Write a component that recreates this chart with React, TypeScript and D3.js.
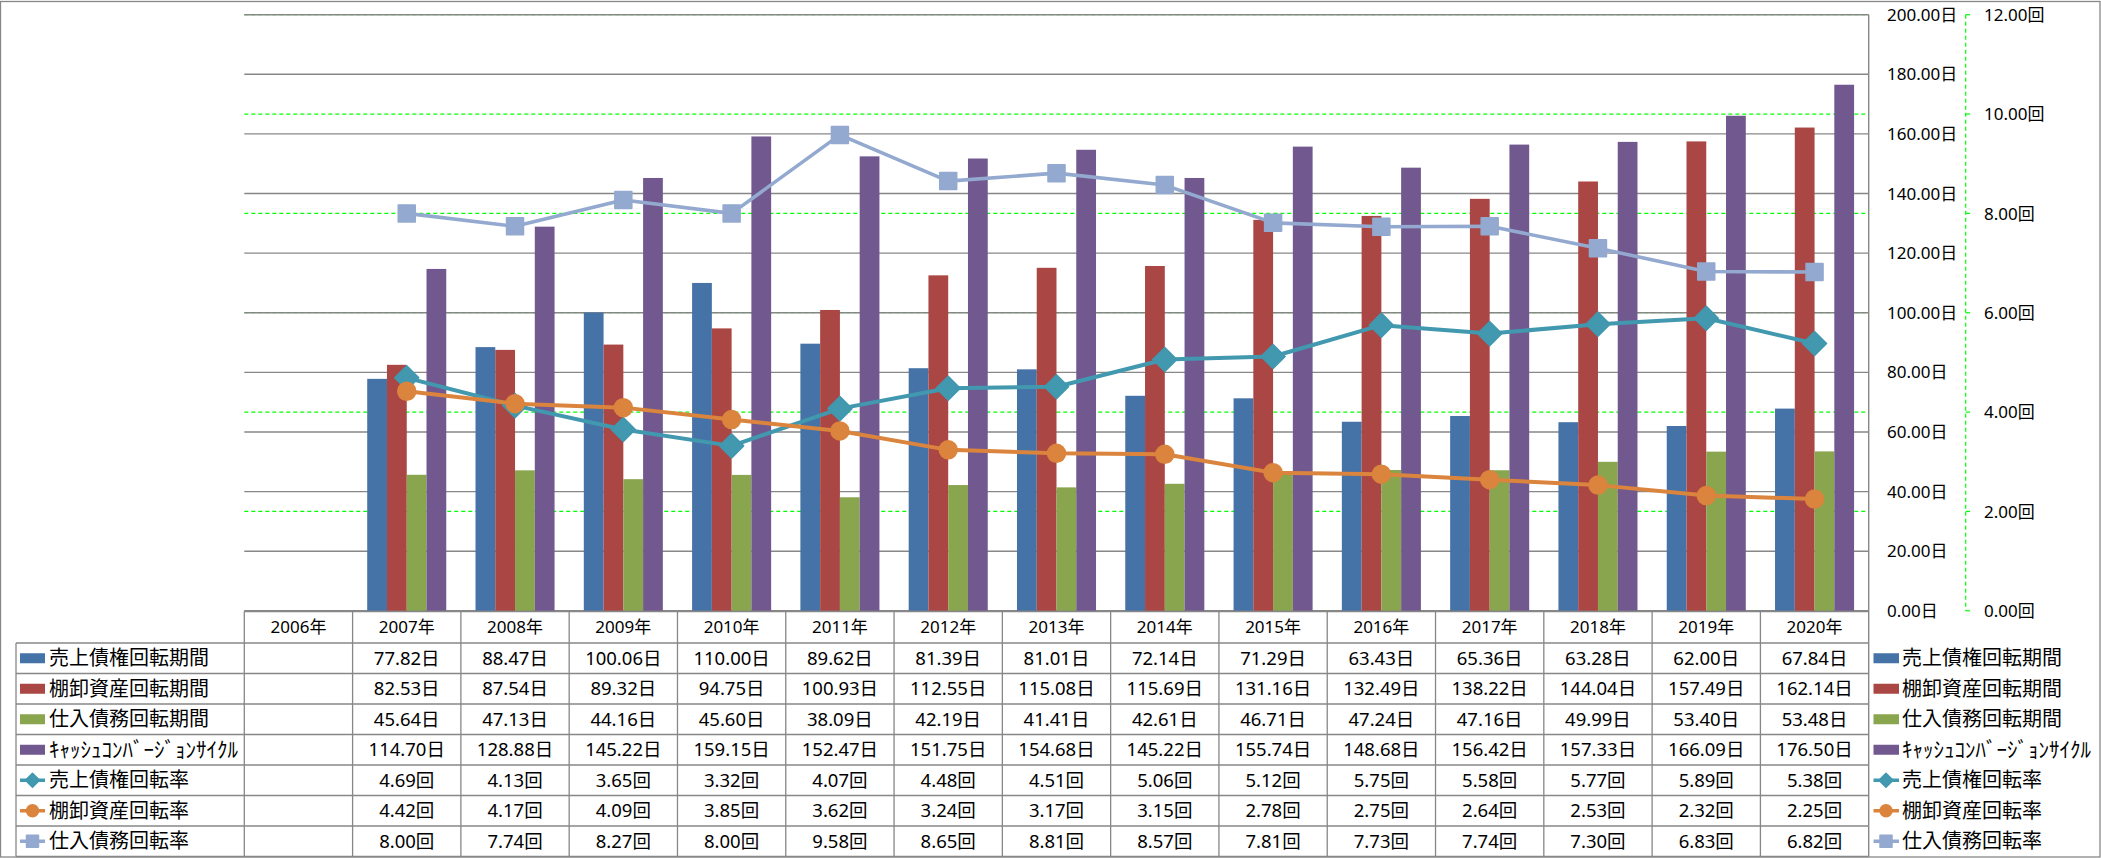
import React from 'react';
import * as d3 from 'd3';

const years = ['2006年', '2007年', '2008年', '2009年', '2010年', '2011年', '2012年', '2013年', '2014年', '2015年', '2016年', '2017年', '2018年', '2019年', '2020年'];
const arDays = [null, 77.82, 88.47, 100.06, 110.0, 89.62, 81.39, 81.01, 72.14, 71.29, 63.43, 65.36, 63.28, 62.0, 67.84];
const invDays = [null, 82.53, 87.54, 89.32, 94.75, 100.93, 112.55, 115.08, 115.69, 131.16, 132.49, 138.22, 144.04, 157.49, 162.14];
const apDays = [null, 45.64, 47.13, 44.16, 45.6, 38.09, 42.19, 41.41, 42.61, 46.71, 47.24, 47.16, 49.99, 53.4, 53.48];
const cccDays = [null, 114.7, 128.88, 145.22, 159.15, 152.47, 151.75, 154.68, 145.22, 155.74, 148.68, 156.42, 157.33, 166.09, 176.5];
const arTurn = [null, 4.69, 4.13, 3.65, 3.32, 4.07, 4.48, 4.51, 5.06, 5.12, 5.75, 5.58, 5.77, 5.89, 5.38];
const invTurn = [null, 4.42, 4.17, 4.09, 3.85, 3.62, 3.24, 3.17, 3.15, 2.78, 2.75, 2.64, 2.53, 2.32, 2.25];
const apTurn = [null, 8.0, 7.74, 8.27, 8.0, 9.58, 8.65, 8.81, 8.57, 7.81, 7.73, 7.74, 7.3, 6.83, 6.82];

const leftTicks = [0, 20, 40, 60, 80, 100, 120, 140, 160, 180, 200];
const rightTicks = [0, 2, 4, 6, 8, 10, 12];

type Series = { name: string; values: (number | null)[]; color: string; kind: 'bar' | 'line'; marker?: string };

const series: Series[] = [
  { name: '売上債権回転期間', values: arDays, color: '#4572A7', kind: 'bar' },
  { name: '棚卸資産回転期間', values: invDays, color: '#AA4643', kind: 'bar' },
  { name: '仕入債務回転期間', values: apDays, color: '#89A54E', kind: 'bar' },
  { name: 'ｷｬｯｼｭｺﾝﾊﾞｰｼﾞｮﾝｻｲｸﾙ', values: cccDays, color: '#71588F', kind: 'bar' },
  { name: '売上債権回転率', values: arTurn, color: '#4198AF', kind: 'line', marker: 'diamond' },
  { name: '棚卸資産回転率', values: invTurn, color: '#DB843D', kind: 'line', marker: 'circle' },
  { name: '仕入債務回転率', values: apTurn, color: '#93A9CF', kind: 'line', marker: 'square' },
];

const W = 2101;
const H = 858;
const plotL = 244.3;
const plotR = 1868.7;
const plotT = 14.7;
const plotB = 610.8;
const tableLabelL = 16;
const headerT = 611.5;
const headerB = 643;
const rowH = 30.5;
const tableB = headerB + rowH * 7;

const numFont = "'Noto Sans', 'Noto Sans CJK JP', sans-serif";
const cjkFont = "'Noto Sans CJK JP', 'Noto Sans', sans-serif";
const gray = '#878787';

function markerPath(kind: string | undefined, size: number) {
  if (kind === 'circle') return d3.symbol(d3.symbolCircle, Math.PI * (size / 2) * (size / 2))()!;
  return d3.symbol(d3.symbolSquare, size * size)()!;
}

function Marker({ kind, x, y, color, size }: { kind?: string; x: number; y: number; color: string; size: number }) {
  const rot = kind === 'diamond' ? 45 : 0;
  return (
    <path
      d={markerPath(kind, size)}
      transform={`translate(${x},${y}) rotate(${rot})`}
      fill={color}
      stroke={color}
      strokeWidth={1.5}
      strokeLinejoin="round"
    />
  );
}

function isHalfWidth(name: string) {
  return /[\uFF61-\uFF9F]/.test(name);
}

export default function App() {
  const x = d3.scaleBand<string>().domain(years).range([plotL, plotR]).padding(0);
  const barSeries = series.filter((s) => s.kind === 'bar');
  const lineSeries = series.filter((s) => s.kind === 'line');
  const xInner = d3
    .scaleBand<string>()
    .domain(barSeries.map((s) => s.name))
    .range([0, x.bandwidth()])
    .paddingInner(0)
    .paddingOuter(0.74);
  const y = d3.scaleLinear().domain([0, 200]).range([plotB, plotT]);
  const y2 = d3.scaleLinear().domain([0, 12]).range([plotB, plotT]);

  const rowMid = (i: number) => headerB + rowH * i + rowH / 2;

  const labelText = (s: Series, lx: number, ly: number) =>
    isHalfWidth(s.name) ? (
      <text x={lx} y={ly} dy="0.36em" fontFamily={cjkFont} fontSize={21} fill="#000" textLength={189} lengthAdjust="spacingAndGlyphs">
        {s.name}
      </text>
    ) : (
      <text x={lx} y={ly} dy="0.36em" fontFamily={cjkFont} fontSize={20} fill="#000">
        {s.name}
      </text>
    );

  return (
    <svg
      width={W}
      height={H}
      style={{ position: 'absolute', left: 0, top: 0, background: '#fff' }}
      xmlns="http://www.w3.org/2000/svg"
    >
      <rect x={0} y={0} width={W} height={H} fill="#fff" />
      {/* outer border */}
      <rect x={0.5} y={1.5} width={2099.5} height={855.5} fill="none" stroke={gray} strokeWidth={1.3} />

      {/* secondary grid (green dashed) */}
      {rightTicks.map((t) => (
        <line
          key={'g2' + t}
          x1={plotL}
          x2={plotR}
          y1={y2(t)}
          y2={y2(t)}
          stroke="#00FF00"
          strokeWidth={1.2}
          strokeDasharray="4 3"
        />
      ))}
      {/* primary grid */}
      {leftTicks.map((t) => (
        <line key={'g' + t} x1={plotL} x2={plotR} y1={y(t)} y2={y(t)} stroke={gray} strokeWidth={1.4} />
      ))}
      {/* plot right border */}
      <line x1={plotR} x2={plotR} y1={plotT} y2={tableB} stroke={gray} strokeWidth={1.4} />

      {/* bars */}
      {barSeries.map((s) =>
        s.values.map((v, i) =>
          v == null ? null : (
            <rect
              key={s.name + i}
              x={(x(years[i]) as number) + (xInner(s.name) as number)}
              y={y(v)}
              width={xInner.bandwidth()}
              height={plotB - y(v)}
              fill={s.color}
            />
          )
        )
      )}

      {/* lines */}
      {lineSeries.map((s) => {
        const pts = s.values
          .map((v, i) => (v == null ? null : ([(x(years[i]) as number) + x.bandwidth() / 2, y2(v)] as [number, number])))
          .filter((p) => p != null) as [number, number][];
        const line = d3.line();
        return (
          <g key={s.name}>
            <path d={line(pts)!} fill="none" stroke={s.color} strokeWidth={s.marker === 'square' ? 3.6 : 4} strokeLinejoin="round" />
            {pts.map((p, i) => (
              <Marker key={i} kind={s.marker} x={p[0]} y={p[1]} color={s.color} size={s.marker === 'circle' ? 18 : 17} />
            ))}
          </g>
        );
      })}

      {/* left axis labels */}
      {leftTicks.map((t) => (
        <text key={'l' + t} x={1887} y={y(t)} dy="0.36em" fontFamily={numFont} fontSize={17} fill="#000">
          {t.toFixed(2) + '日'}
        </text>
      ))}
      {/* secondary axis line */}
      <line x1={1965.7} x2={1965.7} y1={plotT} y2={plotB} stroke="#00FF00" strokeWidth={1.2} strokeDasharray="4 3" />
      {rightTicks.map((t) => (
        <line key={'t2' + t} x1={1965.7} x2={1970} y1={y2(t)} y2={y2(t)} stroke="#00FF00" strokeWidth={1.2} />
      ))}
      {rightTicks.map((t) => (
        <text key={'r' + t} x={1984} y={y2(t)} dy="0.36em" fontFamily={numFont} fontSize={17} fill="#000">
          {t.toFixed(2) + '回'}
        </text>
      ))}

      {/* data table */}
      <g stroke={gray} strokeWidth={1.3}>
        <line x1={plotL} x2={plotR} y1={headerT} y2={headerT} />
        {d3.range(8).map((i) => (
          <line key={'h' + i} x1={tableLabelL} x2={plotR} y1={headerB + rowH * i} y2={headerB + rowH * i} />
        ))}
        <line x1={tableLabelL} x2={tableLabelL} y1={headerB} y2={tableB} />
        {years.map((yr, i) => (
          <line key={'v' + i} x1={x(yr)!} x2={x(yr)!} y1={headerT} y2={tableB} />
        ))}
      </g>
      {years.map((yr) => (
        <text
          key={'hd' + yr}
          x={(x(yr) as number) + x.bandwidth() / 2}
          y={(headerT + headerB) / 2}
          dy="0.36em"
          textAnchor="middle"
          fontFamily={numFont}
          fontSize={17}
          fill="#000"
        >
          {yr}
        </text>
      ))}
      {series.map((s, r) => (
        <g key={'row' + s.name}>
          {s.kind === 'bar' ? (
            <rect x={20} y={rowMid(r) - 5} width={25} height={10} fill={s.color} />
          ) : (
            <g>
              <line x1={20} x2={45} y1={rowMid(r)} y2={rowMid(r)} stroke={s.color} strokeWidth={3.5} />
              <Marker kind={s.marker} x={32.5} y={rowMid(r)} color={s.color} size={s.marker === 'diamond' ? 10 : 12} />
            </g>
          )}
          {labelText(s, 49, rowMid(r))}
          {s.values.map((v, i) =>
            v == null ? null : (
              <text
                key={i}
                x={(x(years[i]) as number) + x.bandwidth() / 2}
                y={rowMid(r)}
                dy="0.36em"
                textAnchor="middle"
                fontFamily={numFont}
                fontSize={18.5}
                fill="#000"
              >
                {v.toFixed(2) + (s.kind === 'bar' ? '日' : '回')}
              </text>
            )
          )}
          {/* right legend */}
          {s.kind === 'bar' ? (
            <rect x={1873.5} y={rowMid(r) - 5} width={25.5} height={10} fill={s.color} />
          ) : (
            <g>
              <line x1={1873.5} x2={1899} y1={rowMid(r)} y2={rowMid(r)} stroke={s.color} strokeWidth={3.5} />
              <Marker kind={s.marker} x={1886} y={rowMid(r)} color={s.color} size={s.marker === 'diamond' ? 10 : 12} />
            </g>
          )}
          {labelText(s, 1902, rowMid(r))}
        </g>
      ))}
    </svg>
  );
}
